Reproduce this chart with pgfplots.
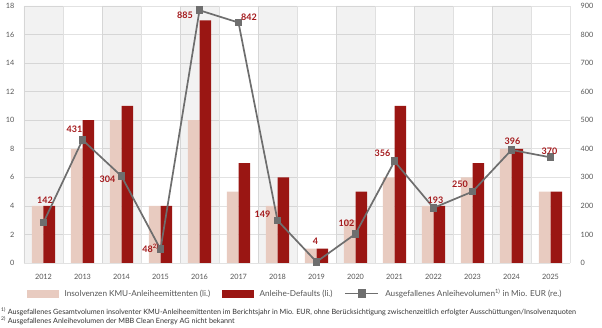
\documentclass[border=0pt]{standalone}
\usepackage{fontspec}
\setmainfont{Lato}
\usepackage{pgfplots}
\usepackage{pgfplotstable}
\pgfplotsset{compat=1.18}
\definecolor{lightbar}{HTML}{E8CBC0}
\definecolor{darkbar}{HTML}{9A1613}
\definecolor{labred}{HTML}{A3181B}
\definecolor{linegray}{HTML}{6E6E6E}
\definecolor{gridc}{HTML}{E2E2E2}
\definecolor{tickc}{HTML}{555555}
\definecolor{foot}{HTML}{333333}

\pgfplotstableread{
x ins def
0 4 4
1 8 10
2 10 11
3 4 4
4 10 17
5 5 7
6 4 6
7 1 1
8 3 5
9 6 11
10 4 4
11 6 7
12 8 8
13 5 5
}\bars

\pgfplotstableread{
x b
0 18
2 18
4 18
6 18
8 18
10 18
12 18
}\bands

\pgfplotstableread{
x vol dx dy
0 142 1.5 22.4
1 431 -8 10.5
2 304 -14 -3
3 48 -10 1
4 885 -14.5 -4.7
5 842 10.5 5
6 149 -15 6.5
7 4 -1 21
8 102 -9 11
9 356 -12 8.3
10 193 2 8
11 250 -12.5 7.6
12 396 1 8.4
13 370 -1 5.8
}\vol

\begin{document}
\begin{tikzpicture}
\path[use as bounding box] (-24pt,-65pt) rectangle (578pt,263pt);
\begin{axis}[
  scale only axis, width=546pt, height=257pt,
  xmin=-0.5, xmax=13.5, ymin=0, ymax=18,
  xtick={0,...,13},
  xticklabels={2012,2013,2014,2015,2016,2017,2018,2019,2020,2021,2022,2023,2024,2025},
  minor xtick={-0.5,0.5,...,13.5},
  ytick={0,2,...,18},
  ymajorgrids, xminorgrids,
  grid style={gridc, line width=0.6pt},
  minor grid style={gridc, line width=0.6pt},
  axis line style={draw=none},
  major tick length=0pt, minor tick length=0pt,
  tick label style={font=\fontsize{7.3}{8}\selectfont, text=tickc},
  /pgf/number format/assume math mode=true,
  xticklabel style={yshift=-8pt},
  yticklabel style={xshift=-6pt},
  ybar,
]
\addplot[fill=black, fill opacity=0.05, draw=none, bar width=1, bar shift=0, forget plot] table[x=x,y=b]{\bands};
\addplot[fill=lightbar, draw=none, bar width=0.3, bar shift=-0.15] table[x=x,y=ins]{\bars};
\addplot[fill=darkbar, draw=none, bar width=0.3, bar shift=0.15] table[x=x,y=def]{\bars};
\end{axis}
\begin{axis}[
  scale only axis, width=546pt, height=257pt,
  xmin=-0.5, xmax=13.5, ymin=0, ymax=900,
  axis x line=none, axis y line*=right,
  ytick={0,100,...,900},
  axis line style={draw=none},
  major tick length=0pt,
  tick label style={font=\fontsize{7.3}{8}\selectfont, text=tickc},
  /pgf/number format/assume math mode=true,
  yticklabel style={xshift=7pt},
  clip=false,
  legend columns=3,
  legend style={at={(axis description cs:0,0)}, anchor=north west, xshift=0pt, yshift=-22pt,
    draw=none, fill=none, font=\fontsize{8.2}{9}\selectfont, text=tickc,
    /tikz/every odd column/.append style={column sep=4pt},
    /tikz/every even column/.append style={column sep=10pt}},
]
\addlegendimage{legend image code/.code={\fill[lightbar] (0pt,-3.2pt) rectangle (31pt,3.2pt);}}
\addlegendentry{Insolvenzen KMU-Anleiheemittenten (li.)}
\addlegendimage{legend image code/.code={\fill[darkbar] (0pt,-3.2pt) rectangle (31pt,3.2pt);}}
\addlegendentry{Anleihe-Defaults (li.)}
\addplot[color=linegray, line width=1.7pt, mark=square*, mark size=3pt, mark options={solid, fill=linegray},
  legend image code/.code={\draw[linegray, line width=1.7pt] (0pt,0pt) -- (33pt,0pt); \fill[linegray] (13pt,-3.5pt) rectangle (20pt,3.5pt);},
  visualization depends on={\thisrow{dx} \as \ldx},
  visualization depends on={\thisrow{dy} \as \ldy},
  nodes near coords={\pgfmathprintnumber[assume math mode=true]{\pgfplotspointmeta}\ifnum\coordindex=3\textsuperscript{2)}\fi},
  point meta=y,
  every node near coord/.append style={anchor=center, xshift=\ldx pt, yshift=\ldy pt,
     font=\bfseries\fontsize{9}{10}\selectfont, text=labred, inner sep=0pt},
] table[x=x, y=vol]{\vol};
\addlegendentry{Ausgefallenes Anleihevolumen\textsuperscript{1)} in Mio. EUR (re.)}
\end{axis}
\node[anchor=base west, font=\fontsize{7.2}{8}\selectfont, text=foot, inner sep=0pt] at (-23pt,-52pt)
  {\textsuperscript{1)} Ausgefallenes Gesamtvolumen insolventer KMU-Anleiheemittenten im Berichtsjahr in Mio. EUR, ohne Berücksichtigung zwischenzeitlich erfolgter Ausschüttungen/Insolvenzquoten};
\node[anchor=base west, font=\fontsize{7.2}{8}\selectfont, text=foot, inner sep=0pt] at (-23pt,-61pt)
  {\textsuperscript{2)} Ausgefallenes Anleihevolumen der MBB Clean Energy AG nicht bekannt};
\end{tikzpicture}
\end{document}
